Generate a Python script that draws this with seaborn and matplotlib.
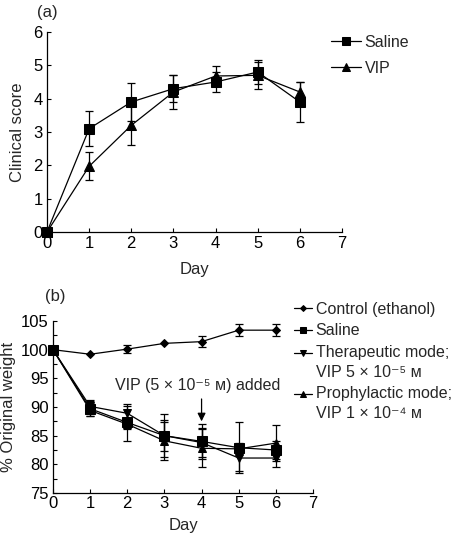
import numpy as np
import seaborn as sns
import matplotlib.pyplot as plt
from matplotlib.legend_handler import HandlerLine2D
from matplotlib.ticker import MultipleLocator

days = [0, 1, 2, 3, 4, 5, 6]

# (a) clinical score
saline_score = [0, 3.1, 3.9, 4.3, 4.5, 4.8, 3.9]
saline_score_err = [0, 0.52, 0.57, 0.4, 0.3, 0.35, 0.6]
vip_score = [0, 1.97, 3.2, 4.2, 4.68, 4.7, 4.2]
vip_score_err = [0, 0.42, 0.6, 0.5, 0.3, 0.4, 0.3]

# (b) % original weight
control_wt = [100, 99.2, 100.1, 101.1, 101.4, 103.4, 103.4]
control_wt_err = [0, 0, 0.7, 0, 1.0, 1.1, 1.0]
saline_wt = [100, 89.7, 87.3, 85.0, 84.0, 82.9, 82.5]
saline_wt_err = [0, 1.3, 3.2, 3.7, 3.0, 4.4, 1.5]
thera_wt = [100, 90.1, 88.9, 85.0, 83.8, 81.1, 81.1]
thera_wt_err = [0, 1.1, 1.3, 2.7, 2.5, 2.3, 1.5]
prophy_wt = [100, 89.4, 87.0, 84.1, 82.8, 82.7, 83.7]
prophy_wt_err = [0, 1.0, 0.8, 3.3, 3.3, 1.0, 3.1]

labels_a = ["Saline", "VIP"]
labels_b = ["Control (ethanol)", "Saline",
            "Therapeutic mode;\nVIP 5 \u00d7 10\u207b\u2075 \u1d0d",
            "Prophylactic mode;\nVIP 1 \u00d7 10\u207b\u2074 \u1d0d"]

sns.set_style("ticks")
plt.rcParams['font.family'] = ['Liberation Sans', 'DejaVu Sans']
plt.rcParams.update({
    'xtick.direction': 'in', 'ytick.direction': 'in',
    'xtick.major.size': 3, 'ytick.major.size': 3,
    'ytick.minor.size': 3,
    'xtick.major.width': 0.8, 'ytick.major.width': 0.8,
    'ytick.minor.width': 0.8,
    'axes.linewidth': 0.9, 'axes.edgecolor': 'black',
    'xtick.color': 'black', 'ytick.color': 'black',
    'xtick.labelsize': 12, 'ytick.labelsize': 12,
    'axes.labelsize': 12,
})

LINESP = 1.4


class FirstLineHandler(HandlerLine2D):
    # put the handle next to the first line of a two-line label
    def create_artists(self, legend, orig_handle, xdescent, ydescent,
                       width, height, fontsize, trans):
        shift = 0.89 * LINESP * fontsize
        return super().create_artists(legend, orig_handle, xdescent,
                                      ydescent - shift, width,
                                      height, fontsize, trans)


def draw(ax, y, err, marker, ms):
    sns.lineplot(x=days, y=y, ax=ax, color='black', lw=0.9, marker=marker,
                 markersize=ms, markeredgecolor='black', clip_on=False,
                 zorder=4)
    handle = ax.lines[-1]
    idx = [i for i, e in enumerate(err) if e > 0]
    ax.errorbar([days[i] for i in idx], [y[i] for i in idx],
                yerr=[err[i] for i in idx], fmt='none', ecolor='black',
                elinewidth=0.9, capsize=3, capthick=0.9, zorder=3)
    return handle


fig = plt.figure(figsize=(4.62, 5.34), dpi=100)
ax_a = fig.add_axes([47 / 462, 1 - 232 / 534, 295 / 462, 200 / 534])
ax_b = fig.add_axes([53 / 462, 1 - 493 / 534, 260 / 462, 172 / 534])

# panel a
h_a = [draw(ax_a, saline_score, saline_score_err, 's', 7),
       draw(ax_a, vip_score, vip_score_err, '^', 7)]
ax_a.set_xlim(0, 7)
ax_a.set_ylim(0, 6)
ax_a.set_xticks(range(0, 8))
ax_a.set_yticks(range(0, 7))
ax_a.set_xlabel("Day", labelpad=8)
ax_a.set_ylabel("Clinical score", labelpad=6)
ax_a.tick_params(pad=3)
sns.despine(ax=ax_a)
fig.legend(h_a, labels_a, loc='upper left',
           bbox_to_anchor=(331 / 462, 1 - 35 / 534), frameon=False,
           fontsize=11.5, handlelength=1.9, handletextpad=0.2,
           labelspacing=0.68, borderpad=0, borderaxespad=0,
           markerscale=0.75)

# panel b
h_b = [draw(ax_b, control_wt, control_wt_err, 'D', 4),
       draw(ax_b, saline_wt, saline_wt_err, 's', 6.5),
       draw(ax_b, thera_wt, thera_wt_err, 'v', 5.5),
       draw(ax_b, prophy_wt, prophy_wt_err, '^', 5.5)]
ax_b.set_xlim(0, 7)
ax_b.set_ylim(75, 105)
ax_b.set_xticks(range(0, 8))
ax_b.set_yticks(range(75, 106, 5))
ax_b.yaxis.set_minor_locator(MultipleLocator(2.5))
ax_b.set_xlabel("Day", labelpad=5)
ax_b.set_ylabel("% Original weight", labelpad=4)
ax_b.tick_params(axis='x', pad=2)
ax_b.tick_params(axis='y', pad=3)
sns.despine(ax=ax_b)
ax_b.annotate('', xy=(4, 87.5), xytext=(4, 91.4),
              arrowprops=dict(arrowstyle='-|>', color='black', lw=0.9,
                              mutation_scale=12, shrinkA=0, shrinkB=0))
ax_b.text(3.9, 93.7, "VIP (5 \u00d7 10\u207b\u2075 \u1d0d) added",
          ha='center', va='center', fontsize=11.5)
leg_b = fig.legend(h_b, labels_b, loc='upper left',
                   bbox_to_anchor=(294 / 462, 1 - 302 / 534), frameon=False,
                   fontsize=11.5, handlelength=1.15, handletextpad=0.2,
                   labelspacing=0.4, borderpad=0, borderaxespad=0,
                   markerscale=0.75,
                   handler_map={h_b[2]: FirstLineHandler(),
                                h_b[3]: FirstLineHandler()})
for t in leg_b.get_texts():
    t.set_linespacing(LINESP)

fig.text(37 / 462, 1 - 12 / 534, "(a)", fontsize=12, va='center')
fig.text(45 / 462, 1 - 297 / 534, "(b)", fontsize=12, va='center')

fig.savefig("out.png", dpi=100)
